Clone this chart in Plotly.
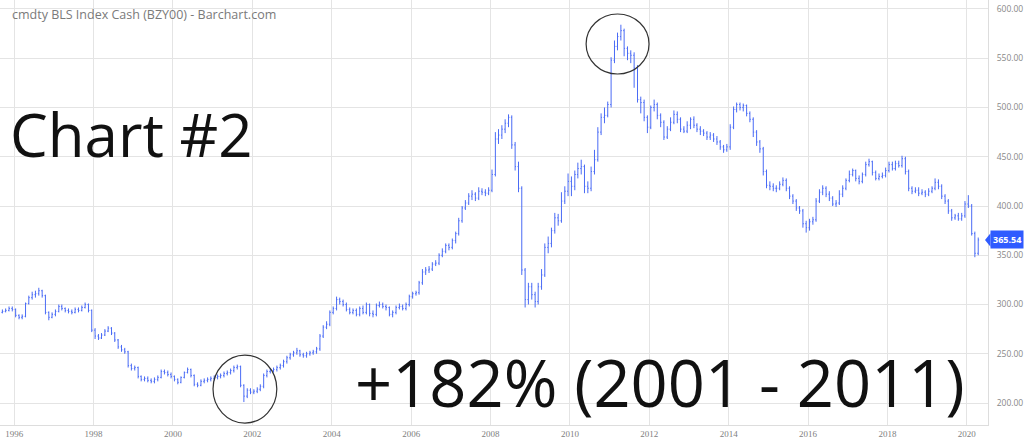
import plotly.graph_objects as go
import pandas as pd

# ---------------- data (monthly) ----------------
start_month = "1995-08-01"
first_open = 291

close = [
    292, 293, 294, 296, 295,                                        # 1995 Aug-Dec
    289, 287, 288, 301, 307, 310, 311, 314, 309, 292, 287, 290,     # 1996
    293, 298, 296, 294, 293, 292, 295, 294, 297, 300, 294, 274,     # 1997
    268, 266, 269, 273, 276, 271, 264, 257, 254, 252, 238, 235,     # 1998
    236, 227, 224, 225, 223, 222, 224, 226, 232, 231, 229, 227,     # 1999
    224, 221, 226, 231, 234, 228, 219, 218, 222, 223, 224, 225,     # 2000
    226, 227, 228, 230, 231, 233, 236, 237, 218, 207, 213, 211,     # 2001
    212, 214, 217, 228, 232, 233, 234, 236, 238, 242, 246, 249,     # 2002
    251, 253, 249, 248, 250, 251, 252, 255, 268, 277, 280, 292,     # 2003
    296, 305, 303, 300, 295, 292, 294, 290, 296, 292, 300, 291,     # 2004
    290, 299, 300, 298, 297, 290, 292, 297, 298, 296, 300, 308,     # 2005
    311, 312, 322, 333, 335, 336, 341, 342, 350, 354, 360, 358,     # 2006
    365, 372, 385, 398, 403, 410, 412, 408, 415, 414, 413, 416,     # 2007
    432, 468, 472, 478, 484, 490, 462, 440, 418, 335, 305, 318,     # 2008
    310, 303, 318, 330, 358, 362, 375, 388, 385, 405, 415, 425,     # 2009
    420, 432, 438, 440, 420, 418, 435, 447, 475, 490, 492, 503,     # 2010
    548, 562, 572, 578, 560, 555, 553, 540, 508, 505, 490, 480,     # 2011
    500, 503, 492, 485, 470, 478, 485, 493, 488, 478, 476, 482,     # 2012
    488, 482, 478, 476, 474, 470, 472, 468, 465, 460, 457, 460,     # 2013
    480, 498, 503, 500, 502, 494, 488, 475, 465, 458, 435, 421,     # 2014
    420, 418, 418, 422, 426, 418, 410, 405, 398, 395, 382, 378,     # 2015
    384, 386, 405, 414, 418, 412, 408, 402, 403, 412, 418, 426,     # 2016
    432, 436, 428, 425, 432, 442, 445, 434, 428, 430, 431, 436,     # 2017
    442, 438, 443, 441, 448, 435, 418, 415, 416, 413, 414, 412,     # 2018
    415, 418, 424, 420, 410, 405, 395, 388, 390, 387, 390, 402,     # 2019
    400, 372, 352, 365.54,                                          # 2020 Jan-Apr
]

high = [
    294, 295, 296, 298, 298,
    296, 290, 290, 302, 309, 313, 314, 317, 315, 310, 293, 292,
    295, 300, 300, 297, 296, 295, 297, 297, 299, 302, 301, 295,
    276, 270, 271, 275, 278, 277, 272, 265, 259, 256, 253, 240,
    238, 237, 228, 227, 227, 225, 226, 228, 234, 234, 233, 231,
    228, 225, 227, 232, 236, 235, 229, 221, 224, 225, 226, 227,
    228, 229, 230, 232, 233, 235, 238, 239, 238, 219, 215, 215,
    214, 216, 219, 230, 234, 235, 236, 238, 240, 244, 248, 251,
    253, 256, 254, 251, 252, 253, 254, 257, 270, 279, 283, 294,
    298, 308, 307, 305, 302, 297, 296, 296, 298, 299, 302, 301,
    294, 301, 303, 302, 300, 298, 294, 299, 301, 300, 302, 310,
    313, 314, 324, 336, 338, 339, 343, 345, 352, 357, 362, 362,
    367, 374, 388, 400, 406, 413, 416, 414, 419, 418, 417, 419,
    437, 475, 478, 482, 488, 493, 492, 465, 445, 420, 337, 322,
    322, 313, 322, 336, 362, 369, 378, 393, 392, 414, 420, 433,
    430, 436, 444, 447, 442, 425, 440, 457, 480, 494, 500, 506,
    551, 568, 576, 584, 580, 562, 558, 556, 543, 511, 508, 492,
    502, 508, 505, 494, 487, 481, 490, 497, 496, 490, 481, 486,
    490, 491, 484, 481, 478, 476, 475, 474, 471, 467, 462, 463,
    483, 501, 505, 505, 504, 503, 496, 490, 477, 467, 460, 437,
    425, 423, 421, 425, 429, 428, 420, 412, 407, 400, 397, 385,
    387, 389, 408, 417, 421, 420, 415, 410, 406, 416, 421, 428,
    436, 438, 437, 431, 434, 445, 448, 446, 436, 433, 434, 439,
    445, 445, 446, 446, 451, 450, 437, 420, 419, 419, 417, 416,
    418, 420, 428, 427, 422, 412, 407, 397, 392, 393, 393, 405,
    411, 402, 374, 368,
]

low = [
    290, 291, 292, 293, 293,
    287, 285, 285, 287, 300, 305, 307, 309, 307, 290, 284, 286,
    288, 292, 294, 292, 291, 290, 291, 292, 293, 296, 292, 272,
    265, 264, 265, 268, 272, 269, 262, 255, 252, 250, 236, 233,
    233, 225, 222, 222, 221, 220, 220, 222, 225, 229, 227, 225,
    222, 219, 220, 225, 230, 226, 217, 216, 217, 220, 221, 222,
    223, 224, 225, 226, 228, 229, 231, 234, 216, 201, 205, 209,
    209, 210, 212, 215, 226, 230, 231, 232, 234, 236, 240, 244,
    247, 249, 247, 246, 246, 248, 249, 250, 253, 266, 275, 278,
    290, 294, 300, 298, 293, 290, 290, 288, 288, 290, 290, 288,
    287, 288, 297, 296, 294, 288, 287, 290, 295, 294, 294, 298,
    306, 309, 310, 320, 330, 332, 334, 339, 340, 348, 352, 355,
    356, 362, 370, 383, 396, 401, 406, 405, 406, 411, 410, 411,
    414, 430, 463, 468, 474, 480, 458, 436, 414, 330, 297, 300,
    305, 297, 300, 315, 328, 352, 358, 372, 380, 383, 402, 410,
    410, 416, 428, 432, 413, 413, 415, 432, 445, 472, 484, 490,
    500, 545, 558, 568, 552, 548, 545, 520, 505, 494, 486, 474,
    478, 496, 488, 480, 467, 468, 476, 483, 484, 475, 474, 474,
    478, 479, 475, 472, 471, 467, 467, 465, 462, 457, 454, 455,
    457, 478, 495, 497, 496, 491, 485, 470, 461, 454, 431, 418,
    416, 415, 414, 416, 420, 415, 407, 402, 395, 392, 378, 373,
    375, 381, 384, 403, 411, 409, 405, 400, 399, 401, 409, 416,
    424, 430, 425, 422, 423, 430, 440, 431, 426, 426, 428, 429,
    434, 436, 436, 439, 439, 432, 415, 412, 413, 410, 411, 409,
    410, 413, 416, 417, 407, 402, 392, 385, 386, 385, 385, 388,
    398, 370, 348, 350,
]

y_ticks = [200, 250, 300, 350, 400, 450, 500, 550, 600]
x_tick_years = [1996, 1998, 2000, 2002, 2004, 2006, 2008, 2010, 2012, 2014, 2016, 2018, 2020]
title_text = "cmdty BLS Index Cash (BZY00) - Barchart.com"
chart_label = "Chart #2"
gain_label = "+182% (2001 - 2011)"
last_price = close[-1]

# ---------------- build ----------------
opens = [first_open] + close[:-1]
dates = pd.date_range(start_month, periods=len(close), freq="MS") + pd.Timedelta(days=14)

BLUE = "#4a6bf5"
W, H = 1024, 443
PL, PR, PT, PB = 0, 36, 0, 18
pw, ph = W - PL - PR, H - PT - PB

def px(x):  # pixel -> paper x
    return (x - PL) / pw

def py(y):  # pixel -> paper y
    return 1 - (y - PT) / ph

fig = go.Figure(
    go.Ohlc(
        x=dates, open=opens, high=high, low=low, close=close,
        increasing=dict(line=dict(color=BLUE, width=1)),
        decreasing=dict(line=dict(color=BLUE, width=1)),
        tickwidth=0.3, hoverinfo="skip", showlegend=False,
    )
)

fig.update_layout(
    width=W, height=H,
    margin=dict(l=PL, r=PR, t=PT, b=PB, autoexpand=False),
    paper_bgcolor="white", plot_bgcolor="white",
    font=dict(family="Open Sans", color="#888888"),
    showlegend=False,
    xaxis=dict(
        type="date",
        range=["1995-08-24", "2020-07-14"],
        rangeslider=dict(visible=False),
        tickvals=[f"{y}-01-01" for y in x_tick_years],
        ticktext=[str(y) for y in x_tick_years],
        showgrid=True, gridcolor="#e4e4e4", gridwidth=1,
        ticks="", showline=True, linecolor="#dddddd",
        tickfont=dict(family="Liberation Sans Narrow", size=9, color="#808080"),
        zeroline=False,
    ),
    yaxis=dict(
        side="right",
        range=[177.7, 609.1],
        tickvals=y_ticks,
        ticktext=[f"{v:.2f}" for v in y_ticks],
        showgrid=True, gridcolor="#e4e4e4", gridwidth=1,
        showline=True, linecolor="#dddddd",
        ticks="outside", ticklen=6, tickcolor="rgba(0,0,0,0)",
        tickfont=dict(family="Open Sans", size=8.5, color="#888888"),
        zeroline=False,
    ),
)

# title
fig.add_annotation(
    text=title_text, xref="paper", yref="paper", x=px(10), y=py(15),
    xanchor="left", yanchor="middle", showarrow=False,
    font=dict(family="Open Sans", size=12.5, color="#7a7a7a"),
)
# big labels
fig.add_annotation(
    text=chart_label, xref="paper", yref="paper", x=px(8), y=py(134),
    xanchor="left", yanchor="middle", showarrow=False,
    font=dict(family="Open Sans", size=60, color="#111111"),
)
fig.add_annotation(
    text=gain_label, xref="paper", yref="paper", x=px(353), y=py(382),
    xanchor="left", yanchor="middle", showarrow=False,
    font=dict(family="Open Sans", size=65, color="#111111"),
)

# circles
fig.add_shape(type="circle", xref="x", yref="y",
              x0="2001-01-04", x1="2002-08-14", y0=179.7, y1=248.7,
              line=dict(color="#333333", width=1.2))
fig.add_shape(type="circle", xref="x", yref="y",
              x0="2010-05-30", x1="2011-12-30", y0=534, y1=594.9,
              line=dict(color="#333333", width=1.2))

# last price tag
fig.add_annotation(
    text=f"<b>{last_price:.2f}</b>", xref="paper", yref="y", x=px(990), y=last_price,
    xanchor="left", yanchor="middle", showarrow=False,
    bgcolor="#2f5bff", borderpad=2,
    font=dict(family="Open Sans", size=9, color="white"),
)
fig.add_shape(type="path", xref="paper", yref="y",
              path=f"M {px(985)} {last_price} L {px(990.5)} {last_price + 6.8} L {px(990.5)} {last_price - 6.8} Z",
              fillcolor="#2f5bff", line=dict(width=0))

fig.write_html(
    "out.html",
    config={"displayModeBar": False},
    post_script="document.body.style.margin='0px';document.body.style.padding='0px';",
)
